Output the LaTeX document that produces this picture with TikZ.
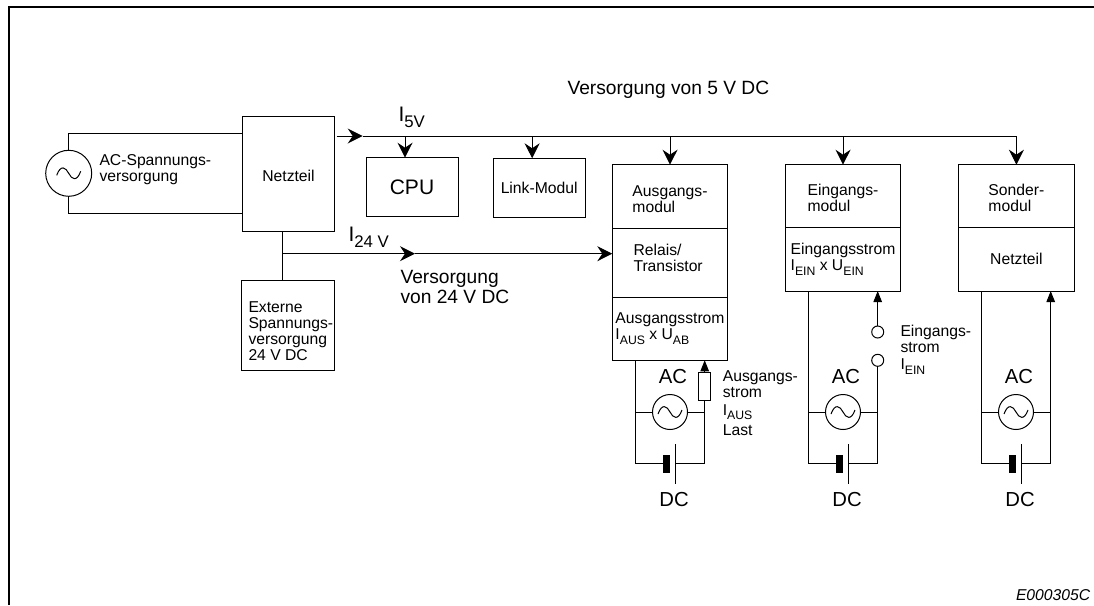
\documentclass[tikz,border=0pt]{standalone}
\usepackage{fontspec}
\usepackage{graphicx}
\setmainfont{Liberation Sans}
\usetikzlibrary{arrows.meta, positioning, calc}
\newcommand{\lowtxt}[2][.78]{\raisebox{-.27em}{\scalebox{#1}{#2}}}
\newcommand{\firstline}{\rule{0pt}{15.5pt}}

\begin{document}
\begin{tikzpicture}[
  x=1pt, y=-1pt,
  line width=1pt,
  box/.style={rectangle, draw, minimum width=#1, inner sep=0pt, outer sep=0pt, align=left, font=\fontsize{15.7}{16}\selectfont},
  box/.default=115.4pt,
  lbl/.style={inner sep=0pt, align=left, font=\fontsize{15.7}{16}\selectfont},
  biglbl/.style={inner sep=0pt, align=left, font=\fontsize{19.2}{20}\selectfont},
  currlbl/.style={inner sep=0pt, font=\fontsize{21}{22}\selectfont},
  arrow/.style={-{Stealth[length=15pt, width=15pt, inset=5pt]}},
  solidarrow/.style={-{Triangle[length=11pt, width=8.5pt]}},
  acsource/.style={circle, draw, minimum size=#1, inner sep=0pt, outer sep=0pt,
    path picture={\draw[shift={(path picture bounding box.center)}]
      (-12,2) .. controls (-8,-9) and (-3,-6) .. (0,0) .. controls (3,6) and (8,9) .. (12,-2);}},
  thickplate/.style={fill, minimum width=6.7pt, minimum height=18pt, inner sep=0pt, outer sep=0pt},
  thinplate/.style={fill, minimum width=1pt, minimum height=40pt, inner sep=0pt, outer sep=0pt},
  contact/.style={circle, draw, minimum size=12pt, inner sep=0pt, outer sep=0pt}
]
  \useasboundingbox (0,0) rectangle (1094,605);
  % frame
  \draw[line width=2pt] (9,605) -- (9,6.5) -- (1094,6.5);

  % supply side
  \node[acsource=46pt] (src) at (68.7,173.3) {};
  \node[lbl, anchor=west] (srctxt) at (99,169.5) {AC-Spannungs-\\versorgung};
  \node[box=92.4pt, minimum height=115.3pt, anchor=north west] (net) at (242.3,116) {\firstline Netzteil};
  \node[box=92.6pt, minimum height=90pt, anchor=north west] (ext) at (241.7,280) {};
  \node[lbl, anchor=west] (exttxt) at (248,331) {Externe\\Spannungs-\\versorgung\\24 V DC};
  \coordinate (wtop) at ($(src.north)+(0,-17)$);
  \coordinate (wbot) at ($(src.south)+(0,17)$);
  \draw (src.north) -- (wtop) -- (wtop -| net.west);
  \draw (src.south) -- (wbot) -- (wbot -| net.west);
  \coordinate (tap) at (282.3,253.7);
  \draw (tap |- net.south) -- (tap |- ext.north);

  % modules
  \node[box=92pt, minimum height=59pt, anchor=north west, font=\fontsize{21}{22}\selectfont] (cpu) at (366,157.7) {CPU};
  \node[box=91.7pt, minimum height=58.7pt, anchor=north west] (link) at (493.3,158.3) {Link-Modul};
  \node[box, minimum height=63.3pt, anchor=north west] (ausg) at (612.3,164.7) {\firstline Ausgangs-\\modul};
  \node[box, minimum height=69pt, below=0pt of ausg] (relais) {};
  \node[lbl, anchor=west] (relaistxt) at (633,258) {Relais/\\Transistor};
  \node[box, minimum height=63.3pt, below=0pt of relais] (ausstrom) {Ausgangsstrom\\I\lowtxt{AUS} x U\lowtxt{AB}};
  \node[box, minimum height=63pt, anchor=north west] (eing) at (785.3,164.7) {\firstline Eingangs-\\modul};
  \node[box, minimum height=63.3pt, below=0pt of eing] (einstrom) {Eingangsstrom\\I\lowtxt{EIN} x U\lowtxt{EIN}};
  \node[box, minimum height=63pt, anchor=north west] (sond) at (958.7,164.7) {\firstline Sonder-\\modul};
  \node[box, minimum height=63.3pt, below=0pt of sond] (sondnet) {Netzteil};

  % 5 V bus
  \coordinate (bus5a) at (336.7,136);
  \coordinate (bus5b) at (362.7,136);
  \coordinate (bus5c) at (sond.north |- bus5a);
  \draw[arrow] (bus5a) -- (bus5b);
  \draw (bus5b) -- (bus5c);
  \draw[arrow] ([xshift=-7pt]cpu.north |- bus5a) -- ([xshift=-7pt]cpu.north);
  \draw[arrow] ([xshift=-7pt]link.north |- bus5a) -- ([xshift=-7pt]link.north);
  \draw[arrow] (ausg.north |- bus5a) -- (ausg.north);
  \draw[arrow] (eing.north |- bus5a) -- (eing.north);
  \draw[arrow] (bus5c) -- (sond.north);
  \node[currlbl, anchor=base west] (i5) at (398,121.7) {I\lowtxt[.8]{5V}};
  \node[biglbl, anchor=west] (v5) at (567,89.5) {Versorgung von 5 V DC};

  % 24 V line
  \coordinate (tapmid) at (415,253.7);
  \draw[arrow] (tap) -- (tapmid);
  \draw[arrow] (tapmid) -- (tapmid -| relais.west);
  \node[currlbl, anchor=base west] (i24) at (348,241.7) {I\lowtxt[.8]{24 V}};
  \node[biglbl, anchor=west] (v24) at (400,286.7) {Versorgung\\von 24 V DC};

  % AC and DC circuits
  \foreach \nm/\xl/\xc/\xr/\modb in {a/635.3/670/704.7/ausstrom, b/808.3/843/877.7/einstrom, c/981.7/1016/1050.7/sondnet} {
    \node[acsource=35pt] (ac\nm) at (\xc,412) {};
    \node[thickplate] (dcp\nm) at (\xc-3.3,463.7) {};
    \node[thinplate] (dcn\nm) at (\xc+5,463.7) {};
    \node[currlbl, font=\fontsize{20.3}{21}\selectfont, anchor=base] (aclbl\nm) at (\xc+3,383) {AC};
    \node[currlbl, font=\fontsize{20.3}{21}\selectfont, anchor=base] (dclbl\nm) at (\xc+4,506.5) {DC};
    \coordinate (bl\nm) at (\xl,463.7);
    \coordinate (br\nm) at (\xr,463.7);
    \draw (bl\nm |- \modb.south) -- (bl\nm) -- (dcp\nm.west);
    \draw (ac\nm.west) -- (ac\nm.west -| bl\nm);
    \draw (ac\nm.east) -- (ac\nm.east -| br\nm);
    \draw (dcn\nm.east) -- (br\nm);
  }

  % output side
  \node[box=12pt, minimum height=28.4pt, anchor=south] (load) at (704.7,400.7) {};
  \draw (bra) -- (load.south);
  \draw[solidarrow] (load.north) -- (load.north |- ausstrom.south);
  \node[lbl, anchor=north west] (outtxt) at (722.3,370) {Ausgangs-\\strom\\[2pt]I\lowtxt{AUS}\\[4pt]Last};

  % input side
  \node[contact] (swlow) at (877.7,360.3) {};
  \node[contact] (swup) at (877.7,332) {};
  \draw (brb) -- (swlow.south);
  \draw[solidarrow] (swup.north) -- (swup.north |- einstrom.south);
  \node[lbl, anchor=north west] (intxt) at (900,325) {Eingangs-\\strom\\[1pt]I\lowtxt{EIN}};

  % special module
  \draw[solidarrow] (brc) -- (brc |- sondnet.south);

  \node[lbl, anchor=base east, font=\fontsize{15.7}{16}\selectfont\itshape] (code) at (1090.7,600) {E000305C};
\end{tikzpicture}
\end{document}
